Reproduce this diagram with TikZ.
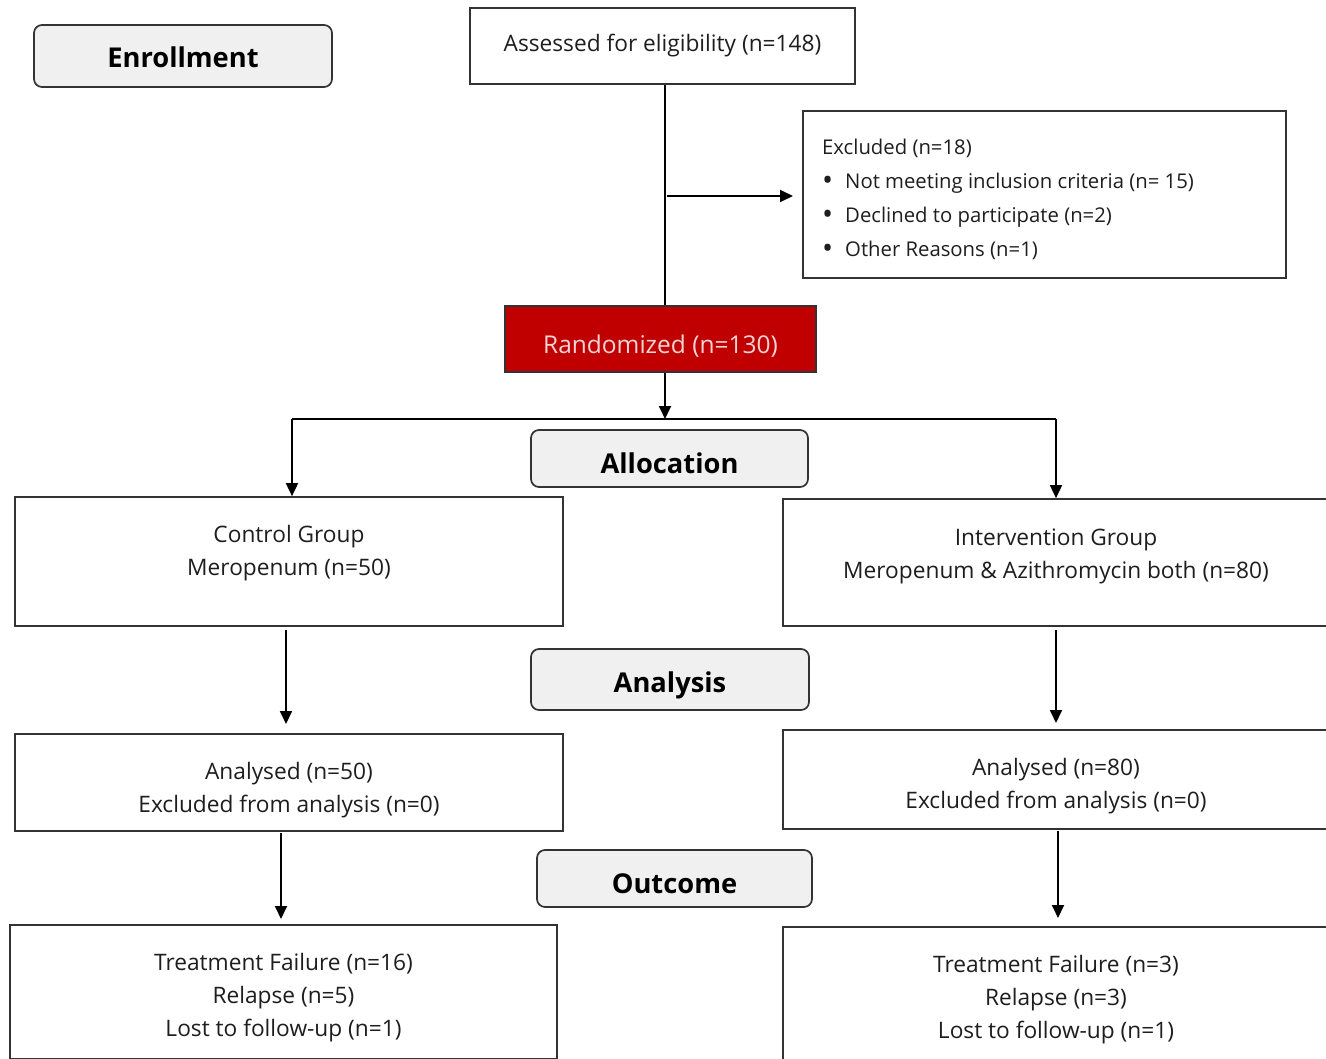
\documentclass[tikz,border=0pt]{standalone}
\usepackage{fontspec}
\setmainfont{Open Sans}
\usetikzlibrary{arrows.meta}
\definecolor{txtc}{HTML}{1E1E1E}
\definecolor{edgec}{HTML}{333333}
\definecolor{stagefill}{HTML}{F0F0F0}
\definecolor{randred}{HTML}{C00000}
\definecolor{randtxt}{HTML}{F4D4D4}
\newcommand{\bulitem}{\makebox[23pt][l]{\raisebox{-0.12em}{\scalebox{1.45}{\textbullet}}}}
\tikzset{
  box/.style={draw=edgec, line width=1.7pt, fill=white, inner sep=0pt},
  stage/.style={draw=edgec, line width=1.7pt, fill=stagefill, rounded corners=8pt, inner sep=0pt},
  stagetxt/.style={font=\fontsize{27.3}{30}\selectfont\bfseries, text=black, inner sep=0pt},
  txt/.style={font=\fontsize{22.7}{33}\selectfont, text=txtc, align=center, inner sep=0pt},
  conn/.style={draw=black, line width=1.8pt},
  arr/.style={conn, -{Triangle[length=13pt,width=12pt]}},
}
\begin{document}
\begin{tikzpicture}[x=1pt,y=-1pt]
\useasboundingbox (0,0) rectangle (1326,1059);
\clip (0,0) rectangle (1326,1059);
\fill[white] (0,0) rectangle (1326,1059);
% stage labels
\node[stage, minimum width=298pt, minimum height=62pt] (enr) at (183,56) {};
\node[stagetxt] (enrT) at (183,57) {Enrollment};
\node[stage, minimum width=277pt, minimum height=57pt] (alloc) at (669.5,458.5) {};
\node[stagetxt] (allocT) at (669.5,463) {Allocation};
\node[stage, minimum width=278pt, minimum height=61pt] (anal) at (670,679.5) {};
\node[stagetxt] (analT) at (670,685.5) {Analysis};
\node[stage, minimum width=275pt, minimum height=57pt] (outc) at (674.5,878.5) {};
\node[stagetxt] (outcT) at (674.5,884) {Outcome};
% main boxes
\node[box, minimum width=385pt, minimum height=76pt, txt] (assess) at (662.5,46) {Assessed for eligibility (n=148)};
\node[box, minimum width=483pt, minimum height=167pt] (excl) at (1044.5,194.5) {};
\node[txt, anchor=north west, align=left, font=\fontsize{20.3}{34}\selectfont] (exclT) at (822,138.5) {Excluded (n=18)\\
  \bulitem Not meeting inclusion criteria (n= 15)\\
  \bulitem Declined to participate (n=2)\\
  \bulitem Other Reasons (n=1)};
\node[box, fill=randred, draw=edgec, minimum width=311pt, minimum height=66pt] (rand) at (660.5,339) {};
\node[txt, text=randtxt, font=\fontsize{24.5}{30}\selectfont] (randT) at (660.5,346) {Randomized (n=130)};
% allocation boxes
\node[box, minimum width=548pt, minimum height=129pt] (ctrl) at (289,561.5) {};
\node[txt] (ctrlT) at (289,553.5) {Control Group\\Meropenum (n=50)};
\node[box, minimum width=546pt, minimum height=127pt] (intv) at (1056,562.5) {};
\node[txt] (intvT) at (1056,556) {Intervention Group\\Meropenum \& Azithromycin both (n=80)};
% analysis boxes
\node[box, minimum width=548pt, minimum height=97pt] (anL) at (289,782.5) {};
\node[txt] (anLT) at (289,790) {Analysed (n=50)\\Excluded from analysis (n=0)};
\node[box, minimum width=546pt, minimum height=99pt] (anR) at (1056,779.5) {};
\node[txt] (anRT) at (1056,786.5) {Analysed (n=80)\\Excluded from analysis (n=0)};
% outcome boxes
\node[box, minimum width=547pt, minimum height=134pt] (ocL) at (283.5,992) {};
\node[txt] (ocLT) at (283.5,998) {Treatment Failure (n=16)\\Relapse (n=5)\\Lost to follow-up (n=1)};
\node[box, minimum width=546pt, minimum height=136pt] (ocR) at (1056,995) {};
\node[txt] (ocRT) at (1056,1000) {Treatment Failure (n=3)\\Relapse (n=3)\\Lost to follow-up (n=1)};
% connectors
\coordinate (branch) at (667,196);
\coordinate (branchEnd) at (793,196);
\coordinate (split) at (665,419);
\coordinate (splitL) at (292,419);
\coordinate (splitR) at (1056,419);
\coordinate (c1) at (286,630);
\coordinate (c1e) at (286,724);
\coordinate (c2) at (1056,630);
\coordinate (c2e) at (1056,723);
\coordinate (c3) at (281,833);
\coordinate (c3e) at (281,919);
\coordinate (c4) at (1058,831);
\coordinate (c4e) at (1058,918);
\draw[conn] (assess.south -| split) -- (rand.north -| split);
\draw[arr] (branch) -- (branchEnd);
\draw[arr] (rand.south -| split) -- (split);
\draw[conn] (splitL) -- (splitR);
\draw[arr] (splitL) -- (ctrl.north -| splitL);
\draw[arr] (splitR) -- (intv.north -| splitR);
\draw[arr] (c1) -- (c1e);
\draw[arr] (c2) -- (c2e);
\draw[arr] (c3) -- (c3e);
\draw[arr] (c4) -- (c4e);
\end{tikzpicture}
\end{document}
